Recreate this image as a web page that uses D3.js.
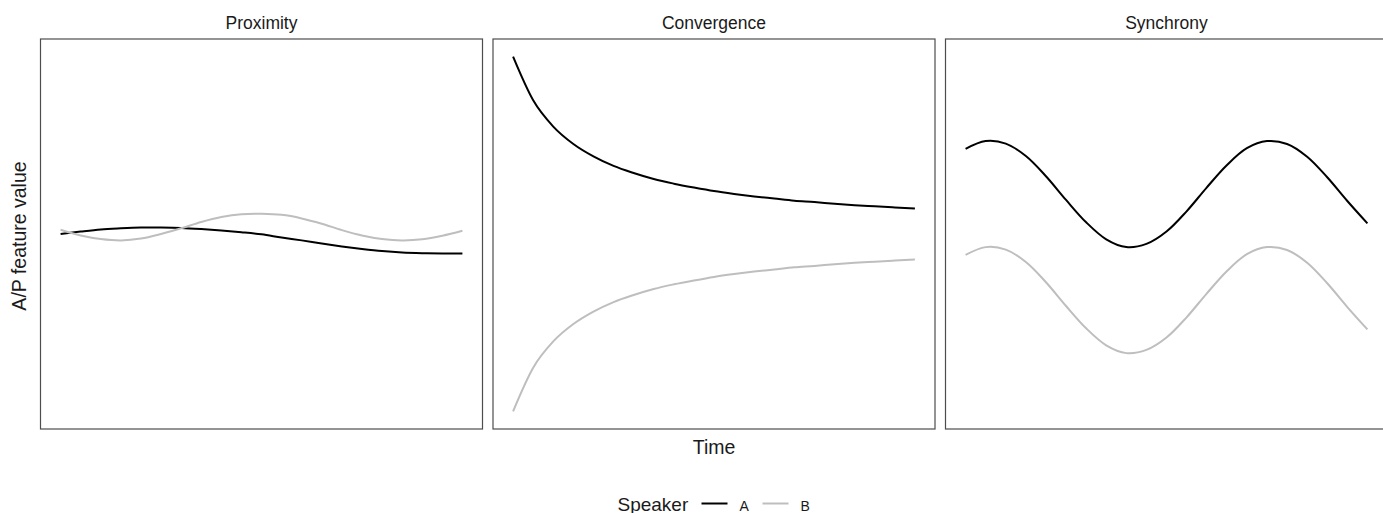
<!DOCTYPE html>
<html>
<head>
<meta charset="utf-8">
<script src="https://cdn.jsdelivr.net/npm/d3@7"></script>
<style>
  body { margin: 0; background: #fff; }
  text { font-family: "Liberation Sans", Arial, Helvetica, sans-serif; fill: #1a1a1a; }
</style>
</head>
<body>
<script>
// data (time in arbitrary units, value on a 0-100 scale)
const time = [0, 5, 10, 15, 20, 25, 30, 35, 40, 45, 50, 55, 60, 65, 70, 75, 80, 85, 90, 95, 100];
const panels = ['Proximity', 'Convergence', 'Synchrony'];
const speakers = ['A', 'B'];

const proximityA = [50.0, 50.7, 51.3, 51.6, 51.8, 51.8, 51.7, 51.4, 51.0, 50.5, 49.9, 49.0, 48.2, 47.3, 46.5, 45.8, 45.2, 44.8, 44.6, 44.5, 44.5];
const proximityB = [51.2, 49.6, 48.6, 48.2, 48.7, 50.0, 51.6, 53.4, 54.8, 55.6, 55.7, 55.4, 54.4, 52.9, 51.1, 49.6, 48.6, 48.2, 48.5, 49.5, 50.9];

const convergenceA = [100.0, 87.7, 80.3, 75.4, 71.9, 69.2, 67.2, 65.5, 64.2, 63.1, 62.1, 61.3, 60.6, 60.0, 59.4, 59.0, 58.5, 58.1, 57.8, 57.5, 57.2];
const convergenceB = [0.0, 12.3, 19.7, 24.6, 28.1, 30.8, 32.8, 34.5, 35.8, 36.9, 37.9, 38.7, 39.4, 40.0, 40.6, 41.0, 41.5, 41.9, 42.2, 42.5, 42.8];

const synchronyA = [74.0, 76.2, 75.5, 72.0, 66.3, 59.6, 53.3, 48.5, 46.3, 47.2, 50.7, 56.4, 63.1, 69.4, 74.2, 76.2, 75.4, 71.8, 66.0, 59.3, 53.0];
const synchronyB = [44.1, 46.3, 45.6, 42.1, 36.4, 29.7, 23.4, 18.6, 16.4, 17.3, 20.8, 26.5, 33.2, 39.5, 44.3, 46.3, 45.5, 41.9, 36.1, 29.4, 23.1];

const series = {
    Proximity: { A: proximityA, B: proximityB },
    Convergence: { A: convergenceA, B: convergenceB },
    Synchrony: { A: synchronyA, B: synchronyB }
};

const w = 1383, h = 513;
const panelTop = 39, panelBottom = 429, panelW = 442, panelGap = 10.5, panelLeft = 40.5;
const colour = d3.scaleOrdinal().domain(speakers).range(['#000000', '#bebebe']);

const svg = d3.select('body').append('svg').attr('width', w).attr('height', h);

const y = d3.scaleLinear().domain([-5, 105]).range([panelBottom, panelTop]);

panels.forEach((name, i) => {
    const left = panelLeft + i * (panelW + panelGap);
    const x = d3.scaleLinear().domain([-5, 105]).range([left, left + panelW]);
    const g = svg.append('g');

    g.append('text')
        .attr('x', left + panelW / 2)
        .attr('y', 28.5)
        .attr('text-anchor', 'middle')
        .style('font-size', '17.5px')
        .text(name);

    const line = d3.line()
        .x((d, j) => x(time[j]))
        .y(d => y(d))
        .curve(name === 'Convergence' ? d3.curveMonotoneX : d3.curveCatmullRom.alpha(0.5));

    speakers.forEach(s => {
        g.append('path')
            .datum(series[name][s])
            .attr('fill', 'none')
            .attr('stroke', colour(s))
            .attr('stroke-width', 2)
            .attr('d', line);
    });

    g.append('rect')
        .attr('x', left)
        .attr('y', panelTop)
        .attr('width', panelW)
        .attr('height', panelBottom - panelTop)
        .attr('fill', 'none')
        .attr('stroke', '#4d4d4d')
        .attr('stroke-width', 1.2);
});

// axis titles
svg.append('text')
    .attr('x', 714)
    .attr('y', 453.5)
    .attr('text-anchor', 'middle')
    .style('font-size', '19.5px')
    .text('Time');

svg.append('text')
    .attr('transform', 'translate(25.5, 236) rotate(-90)')
    .attr('text-anchor', 'middle')
    .style('font-size', '19.5px')
    .text('A/P feature value');

// legend
const legend = svg.append('g');
legend.append('text')
    .attr('x', 617.5)
    .attr('y', 510.5)
    .style('font-size', '19px')
    .text('Speaker');

const keyX = d3.scalePoint().domain(speakers).range([701.5, 762.5]);
speakers.forEach(s => {
    legend.append('line')
        .attr('x1', keyX(s))
        .attr('x2', keyX(s) + 26)
        .attr('y1', 503.5)
        .attr('y2', 503.5)
        .attr('stroke', colour(s))
        .attr('stroke-width', 2);
    legend.append('text')
        .attr('x', keyX(s) + 38)
        .attr('y', 510.5)
        .style('font-size', '14px')
        .text(s);
});
</script>
</body>
</html>
